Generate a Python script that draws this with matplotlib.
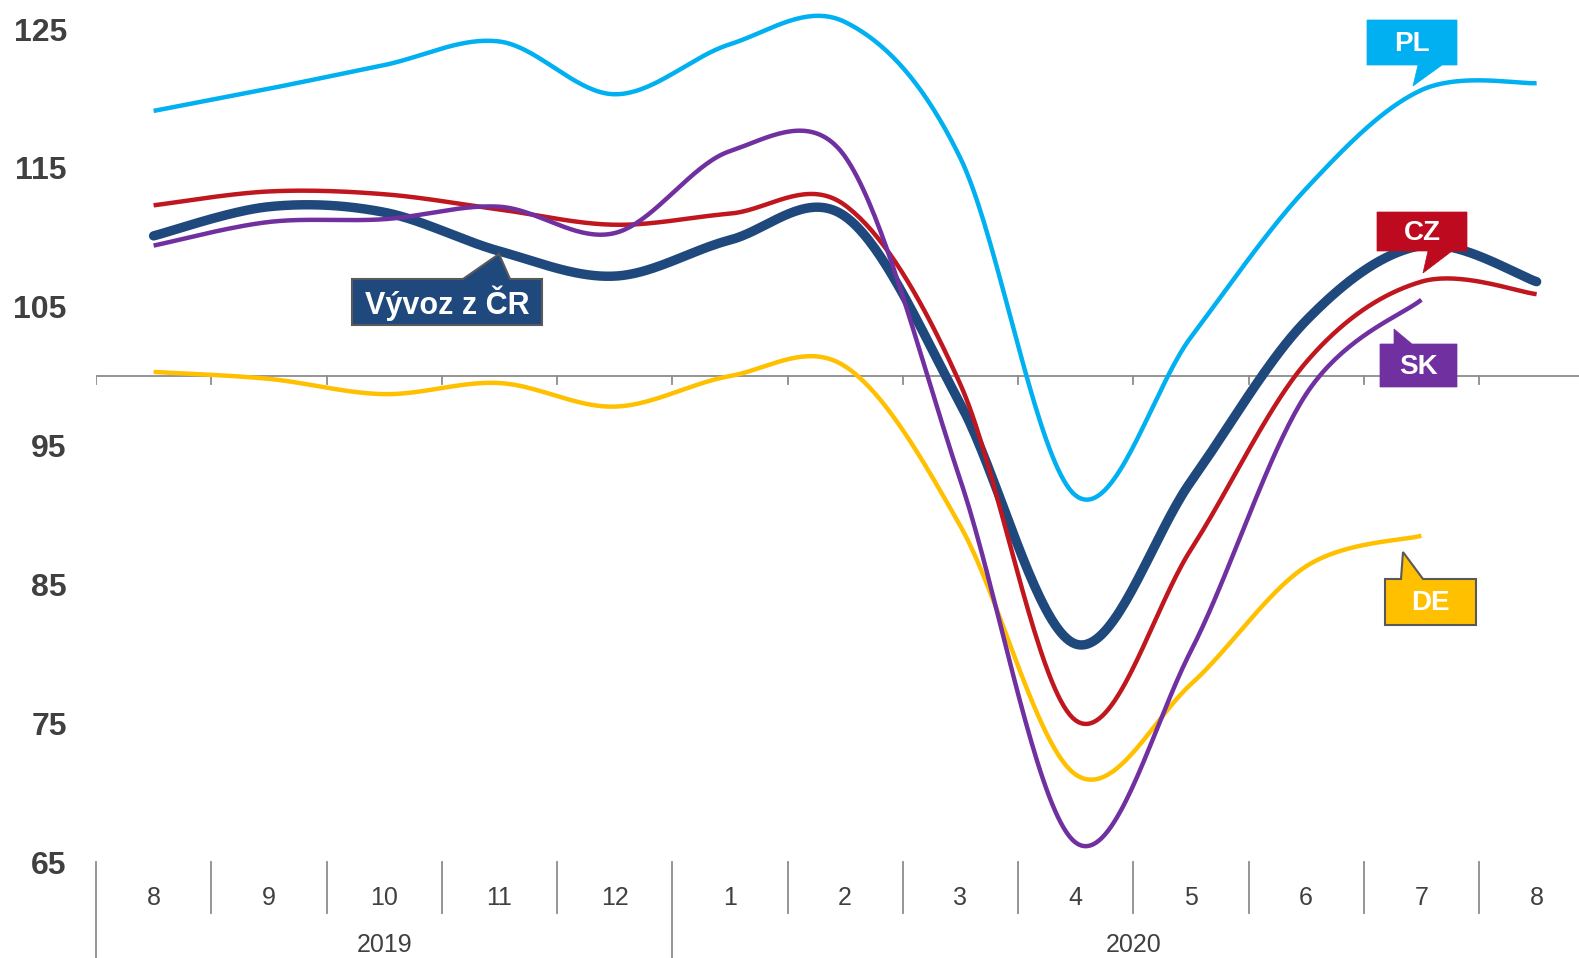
import numpy as np
import matplotlib
matplotlib.use("Agg")
import matplotlib.pyplot as plt
from matplotlib.patches import Polygon

# data
months = ["8", "9", "10", "11", "12", "1", "2", "3", "4", "5", "6", "7", "8"]
years = ["2019", "2020"]
year_span = [(0, 4), (5, 12)]

vyvoz = [110.1, 112.2, 111.8, 109.0, 107.2, 109.8, 111.5, 98.0, 80.7, 92.4, 104.0, 109.4, 106.8]
cz = [112.3, 113.3, 113.1, 112.0, 110.9, 111.7, 112.3, 99.4, 75.2, 87.5, 101.0, 106.8, 105.9]
sk = [109.4, 111.1, 111.3, 112.2, 110.3, 116.2, 115.8, 92.5, 66.4, 80.2, 98.7, 105.5, np.nan]
pl = [119.1, 120.7, 122.4, 124.1, 120.3, 123.9, 125.5, 115.7, 91.4, 102.8, 113.5, 120.6, 121.1]
de = [100.3, 99.8, 98.7, 99.5, 97.8, 100.0, 100.7, 89.2, 71.3, 77.8, 86.3, 88.5, np.nan]

c_vyvoz = "#1F497D"
c_cz = "#C0161E"
c_sk = "#7030A0"
c_pl = "#00B0F0"
c_de = "#FFC000"
grey = "#404040"
axis_grey = "#8C8C8C"

W, H = 1579, 958
SANS = ["Liberation Sans", "DejaVu Sans"]
NARROW = ["Liberation Sans Narrow", "Liberation Sans", "DejaVu Sans"]

step = 115.25          # px per category
ypx = 833 / 60.0       # px per index point


def smooth(y, n=40):
    # excel-like smoothed line: bezier with 1/6 tension, arm clamped to half the segment
    y = np.asarray(y, float)
    x = np.arange(len(y), dtype=float)
    ok = ~np.isnan(y)
    pts = np.column_stack([x[ok] * step, y[ok] * ypx])
    P = np.vstack([pts[0], pts, pts[-1]])
    t = np.linspace(0, 1, n)[:, None]
    out = []
    for i in range(len(pts) - 1):
        p0, p1, p2, p3 = P[i], P[i + 1], P[i + 2], P[i + 3]
        seg_len = np.hypot(*(p2 - p1))
        a1 = (p2 - p0) / 6
        a2 = (p3 - p1) / 6
        for a in (a1, a2):
            ln = np.hypot(*a)
            if ln > seg_len / 2:
                a *= (seg_len / 2) / ln
        c1 = p1 + a1
        c2 = p2 - a2
        seg = (1 - t) ** 3 * p1 + 3 * (1 - t) ** 2 * t * c1 + 3 * (1 - t) * t ** 2 * c2 + t ** 3 * p2
        out.append(seg if i == 0 else seg[1:])
    s = np.vstack(out)
    return s[:, 0] / step, s[:, 1] / ypx


fig = plt.figure(figsize=(W / 100, H / 100), dpi=100)
left, right, top, bottom = 96, W, 29, 862
ax = fig.add_axes([left / W, (H - bottom) / H, (right - left) / W, (bottom - top) / H])
ax.set_xlim(-0.5, -0.5 + (right - left) / step)
ax.set_ylim(65, 125)
for s in ax.spines.values():
    s.set_visible(False)

ax.set_yticks(np.arange(65, 126, 10))
ax.tick_params(axis="y", length=0, pad=21, labelsize=23, labelcolor=grey)
for lab in ax.get_yticklabels():
    lab.set_fontweight("bold")
    lab.set_family(SANS)
ax.set_xticks([])

# horizontal axis at 100
ax.axhline(100, color=axis_grey, lw=1.3, zorder=1)
for b in np.arange(-0.5, len(months) - 0.5, 1):
    ax.plot([b, b], [100, 100 - 0.6], color=axis_grey, lw=1.3, zorder=1)

# series
series = [
    (de, c_de, 3.2, "butt"),
    (pl, c_pl, 3.2, "butt"),
    (vyvoz, c_vyvoz, 6.8, "round"),
    (cz, c_cz, 3.2, "butt"),
    (sk, c_sk, 3.2, "butt"),
]
for vals, col, lw, cap in series:
    xs, ys = smooth(vals)
    ax.plot(xs, ys, color=col, lw=lw, solid_capstyle=cap, clip_on=False, zorder=3)

# category axis below
tr = ax.get_xaxis_transform()


def ay(py):
    return (bottom - py) / (bottom - top)


for i, m in enumerate(months):
    ax.text(i, ay(898), m, transform=tr, ha="center", va="center",
            fontsize=18, color=grey, family=NARROW)
for b in np.arange(-0.5, len(months) - 0.5, 1):
    long = b in (-0.5, 4.5)
    ax.plot([b, b], [ay(bottom), ay(965 if long else 913)], transform=tr,
            color=axis_grey, lw=1.3, clip_on=False)
for yr, (a, b) in zip(years, year_span):
    ax.text((a + b) / 2, ay(945), yr, transform=tr, ha="center", va="center",
            fontsize=18, color=grey, family=NARROW)

# callouts, drawn in pixel space
ov = fig.add_axes([0, 0, 1, 1], facecolor="none")
ov.set_xlim(0, W)
ov.set_ylim(H, 0)
ov.axis("off")


def callout(box, base, tip, text, fc, ec=None, fs=20, below=True):
    x0, y0, x1, y1 = box
    if below:
        pts = [(x0, y0), (x1, y0), (x1, y1), (base[1], y1), tip, (base[0], y1), (x0, y1)]
    else:
        pts = [(x0, y0), (base[0], y0), tip, (base[1], y0), (x1, y0), (x1, y1), (x0, y1)]
    ov.add_patch(Polygon(pts, closed=True, facecolor=fc,
                         edgecolor=ec if ec else fc, lw=1.5 if ec else 0.5, zorder=5))
    ov.text((x0 + x1) / 2, (y0 + y1) / 2 + 1, text, ha="center", va="center",
            color="white", fontsize=fs, fontweight="bold", family=SANS, zorder=6)


callout((1367, 20, 1457, 65), (1418, 1442), (1413, 86), "PL", c_pl)
callout((1377, 212, 1467, 251), (1428, 1452), (1423, 273), "CZ", "#BE0A1E")
callout((1380, 344, 1457, 387), (1394, 1412), (1394, 329), "SK", c_sk, below=False)
callout((1385, 579, 1476, 625), (1401, 1423), (1403, 552), "DE", c_de, ec="#595959", below=False)
callout((352, 279, 542, 325), (463, 510), (499, 254), "Vývoz z ČR", c_vyvoz, ec="#595959",
        fs=22, below=False)

fig.savefig("out.png", dpi=100)
